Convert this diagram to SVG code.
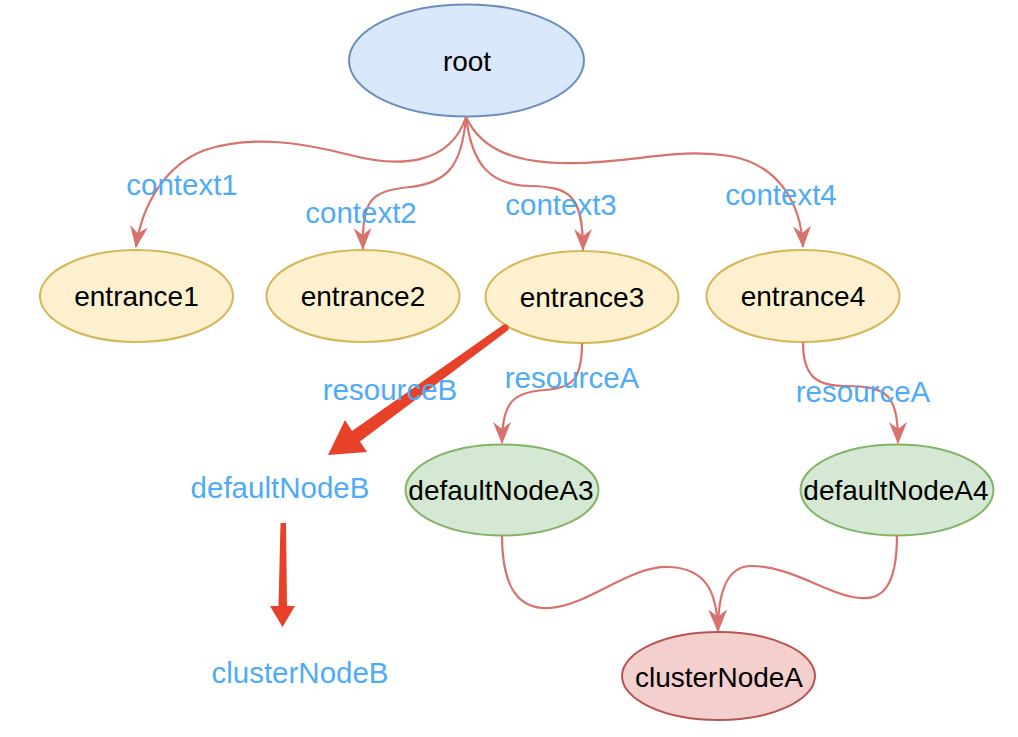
<svg xmlns="http://www.w3.org/2000/svg" width="1018" height="737" viewBox="0 0 1018 737">
<style>
.edge{fill:none;stroke:#d7726d;stroke-width:2.2;marker-end:url(#ah)}
.lbl{font-family:"Liberation Sans",Arial,sans-serif;font-size:29.5px;fill:#4dabf7;text-anchor:middle}
.txt{font-family:"Liberation Sans",Arial,sans-serif;font-size:28px;fill:#000;text-anchor:middle}
.blue{fill:#dae8fc;stroke:#6c8ebf;stroke-width:2}
.yel{fill:#fcf0cf;stroke:#d6b656;stroke-width:2}
.grn{fill:#d5e8d4;stroke:#82b366;stroke-width:2}
.red{fill:#f3cfcd;stroke:#b85450;stroke-width:2}
.big{fill:#e8412a}
</style>
<defs>
<marker id="ah" viewBox="0 0 22 18" refX="21" refY="9" markerWidth="22" markerHeight="18" markerUnits="userSpaceOnUse" orient="auto">
<path d="M0,0 L22,9 L0,18 L7,9 Z" fill="#d7726d"/>
</marker>
</defs>
<rect width="1018" height="737" fill="#fff"/>
<g id="root"><ellipse class="blue" cx="466.5" cy="60.5" rx="117.5" ry="56"/><text class="txt" x="467" y="71">root</text></g>
<g id="entrance1"><ellipse class="yel" cx="136.5" cy="296" rx="96.5" ry="46"/><text class="txt" x="136.5" y="306">entrance1</text></g>
<g id="entrance2"><ellipse class="yel" cx="363" cy="296" rx="96.5" ry="46"/><text class="txt" x="363" y="306">entrance2</text></g>
<g id="entrance3"><ellipse class="yel" cx="582" cy="297" rx="96.5" ry="46"/><text class="txt" x="582" y="307">entrance3</text></g>
<g id="entrance4"><ellipse class="yel" cx="803" cy="296" rx="96.5" ry="46"/><text class="txt" x="803" y="306">entrance4</text></g>
<g id="defaultNodeA3"><ellipse class="grn" cx="502" cy="490" rx="96.5" ry="45.5"/><text class="txt" x="501" y="500">defaultNodeA3</text></g>
<g id="defaultNodeA4"><ellipse class="grn" cx="897" cy="490" rx="96.5" ry="45.5"/><text class="txt" x="896" y="500">defaultNodeA4</text></g>
<g id="clusterNodeA"><ellipse class="red" cx="718.5" cy="676" rx="96.5" ry="44"/><text class="txt" x="719" y="687">clusterNodeA</text></g>
<g id="defaultNodeB"><text class="lbl" x="280" y="498">defaultNodeB</text></g>
<g id="clusterNodeB"><text class="lbl" x="300" y="683">clusterNodeB</text></g>
<g id="connectors">
<path class="edge" d="M466 117 C450 165,400 168,350 155 C300 142,250 135,205 150 C165 165,142 205,136 247"/>
<path class="edge" d="M466 117 C462 165,448 183,410 187 C370 191,362 200,363 249"/>
<path class="edge" d="M466 117 C472 165,490 185,530 186 C570 187,583 195,583 250"/>
<path class="edge" d="M466 117 C482 152,520 165,580 163 C640 161,680 148,730 156 C780 165,801 205,803 247"/>
<path class="edge" d="M582 343 C582 380,572 388,545 390 C515 392,502 400,502 443"/>
<path class="edge" d="M803 342 C803 375,815 386,845 386 C888 386,898 395,898 443"/>
<path class="edge" d="M502 535 C502 590,520 610,550 608 C590 605,630 565,670 567 C705 569,717 590,718 631"/>
<path class="edge" d="M897 535 C897 590,880 600,860 598 C830 596,790 565,750 566 C728 567,718 590,718 631"/>
<path class="big" d="M503 325 L352 431 L345 420 L328 455 L367 452 L360 441.5 L507 331 A3.5 3.5 0 0 0 503 325 Z"/>
<path class="big" d="M280.5 523 L286 523 L287 606 L295 606 L282.5 627 L270 606 L278.5 606 Z"/>
<text class="lbl" x="182" y="195">context1</text>
<text class="lbl" x="361" y="223">context2</text>
<text class="lbl" x="561" y="215">context3</text>
<text class="lbl" x="781" y="205">context4</text>
<text class="lbl" x="390" y="400">resourceB</text>
<text class="lbl" x="572" y="388">resourceA</text>
<text class="lbl" x="863" y="402">resourceA</text>
</g>
</svg>
